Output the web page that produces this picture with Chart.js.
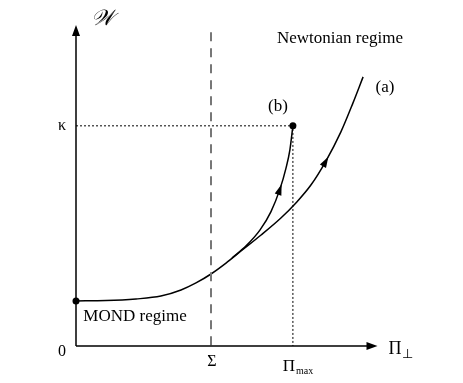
<!DOCTYPE html>
<html>
<head>
<meta charset="utf-8">
<script src="https://cdn.jsdelivr.net/npm/chart.js@4"></script>
<style>
  html, body { margin: 0; padding: 0; background: #fff; }
  #wrap { width: 463px; height: 383px; }
</style>
</head>
<body>
<div id="wrap"><canvas id="myChart" width="463" height="383"></canvas></div>
<script>
// curve values (x = Pi_perp, y = W)
let curveA_x = [0, 1, 2, 2.83, 3.5, 4, 4.5, 5, 5.5, 6.17, 6.83, 7.33, 7.83, 8.33, 8.83, 9.23, 9.57];
let curveA_y = [1.41, 1.42, 1.47, 1.56, 1.75, 1.97, 2.25, 2.59, 2.97, 3.47, 4.0, 4.47, 5.03, 5.78, 6.69, 7.59, 8.41];
let curveB_x = [5.2, 5.67, 6.13, 6.5, 6.8, 7.0, 7.13, 7.23];
let curveB_y = [2.75, 3.13, 3.62, 4.2, 4.91, 5.56, 6.13, 6.88];
let sigma = 4.5;
let piMax = 7.23;
let kappa = 6.88;

function pts(xs, ys) {
    return xs.map((x, i) => ({x: x, y: ys[i]}));
}

// axes, arrows and text labels
let decor = {
    id: 'decor',
    afterDatasetsDraw(chart) {
        let ctx = chart.ctx;
        let xs = chart.scales.x, ys = chart.scales.y;
        let x0 = xs.getPixelForValue(0), y0 = ys.getPixelForValue(0);
        let xEnd = xs.getPixelForValue(10.05), yEnd = ys.getPixelForValue(10.03);

        ctx.save();
        ctx.strokeStyle = '#000';
        ctx.fillStyle = '#000';
        ctx.lineWidth = 1.5;
        ctx.beginPath();
        ctx.moveTo(x0, y0); ctx.lineTo(x0, yEnd + 8);
        ctx.moveTo(x0, y0); ctx.lineTo(xEnd - 8, y0);
        ctx.stroke();
        // axis arrowheads
        ctx.beginPath();
        ctx.moveTo(x0, yEnd); ctx.lineTo(x0 - 4, yEnd + 11); ctx.lineTo(x0 + 4, yEnd + 11); ctx.closePath();
        ctx.moveTo(xEnd, y0); ctx.lineTo(xEnd - 11, y0 - 4); ctx.lineTo(xEnd - 11, y0 + 4); ctx.closePath();
        ctx.fill();

        // flow arrowheads on the curves
        function headOn(xArr, yArr, i) {
            let px = xs.getPixelForValue(xArr[i]), py = ys.getPixelForValue(yArr[i]);
            let ax = xs.getPixelForValue(xArr[i - 1]), ay = ys.getPixelForValue(yArr[i - 1]);
            let bx = xs.getPixelForValue(xArr[i + 1]), by = ys.getPixelForValue(yArr[i + 1]);
            let a = Math.atan2(by - ay, bx - ax);
            ctx.save();
            ctx.translate(px, py);
            ctx.rotate(a);
            ctx.beginPath();
            ctx.moveTo(5, 0); ctx.lineTo(-6, -3.5); ctx.lineTo(-6, 3.5); ctx.closePath();
            ctx.fill();
            ctx.restore();
        }
        headOn(curveA_x, curveA_y, 13);
        headOn(curveB_x, curveB_y, 4);

        // labels
        ctx.fillStyle = '#000';
        ctx.textBaseline = 'middle';
        ctx.textAlign = 'center';
        ctx.font = 'italic 22px "Liberation Serif"';
        ctx.fillText('\u{1D4B2}', 102, 19);
        ctx.font = '16px "Liberation Serif"';
        ctx.fillText('\u03BA', 62, ys.getPixelForValue(kappa));
        ctx.fillText('0', 62, 352);
        ctx.fillText('\u03A3', xs.getPixelForValue(sigma) + 1, 362);
        ctx.font = '17px "Liberation Serif"';
        ctx.fillText('\u03A0', xs.getPixelForValue(piMax) - 4, 367);
        ctx.font = '18px "Liberation Serif"';
        ctx.fillText('\u03A0', 395, 349);
        ctx.font = '10px "Liberation Serif"';
        ctx.textAlign = 'left';
        ctx.fillText('max', 296, 371);
        ctx.font = '13px "DejaVu Sans"';
        ctx.fillText('\u22A5', 402, 355);
        ctx.font = '17px "Liberation Serif"';
        ctx.textAlign = 'center';
        ctx.fillText('Newtonian regime', 340, 39);
        ctx.fillText('MOND regime', 135, 317);
        ctx.fillText('(a)', 385, 88);
        ctx.fillText('(b)', 278, 107);
        ctx.restore();
    }
};

let ctx = document.getElementById('myChart').getContext('2d');
let myChart = new Chart(ctx, {
    type: 'line',
    data: {
        datasets: [
            {
                // Sigma dashed line
                data: [{x: sigma, y: 0.02}, {x: sigma, y: 9.9}],
                borderColor: '#777',
                borderWidth: 2,
                borderDash: [9, 7],
                pointRadius: 0
            },
            {
                // kappa / Pi_max dotted guides
                data: [{x: 0, y: kappa}, {x: piMax, y: kappa}, {x: piMax, y: 0}],
                borderColor: '#000',
                borderWidth: 1,
                borderDash: [2, 2],
                pointRadius: 0
            },
            {
                data: pts(curveA_x, curveA_y),
                borderColor: '#000',
                borderWidth: 1.5,
                cubicInterpolationMode: 'monotone',
                pointRadius: 0
            },
            {
                data: pts(curveB_x, curveB_y),
                borderColor: '#000',
                borderWidth: 1.5,
                cubicInterpolationMode: 'monotone',
                pointRadius: 0
            },
            {
                data: [{x: 0, y: curveA_y[0]}, {x: piMax, y: kappa}],
                showLine: false,
                pointRadius: 3.5,
                pointBackgroundColor: '#000',
                pointBorderWidth: 0
            }
        ]
    },
    options: {
        responsive: false,
        animation: false,
        layout: {
            padding: {left: 76, right: 87, top: 26, bottom: 37}
        },
        scales: {
            x: {type: 'linear', min: 0, max: 10, display: false},
            y: {type: 'linear', min: 0, max: 10, display: false}
        },
        datasets: {
            line: {clip: false}
        },
        plugins: {
            legend: {display: false},
            tooltip: {enabled: false}
        }
    },
    plugins: [decor]
});
</script>
</body>
</html>
